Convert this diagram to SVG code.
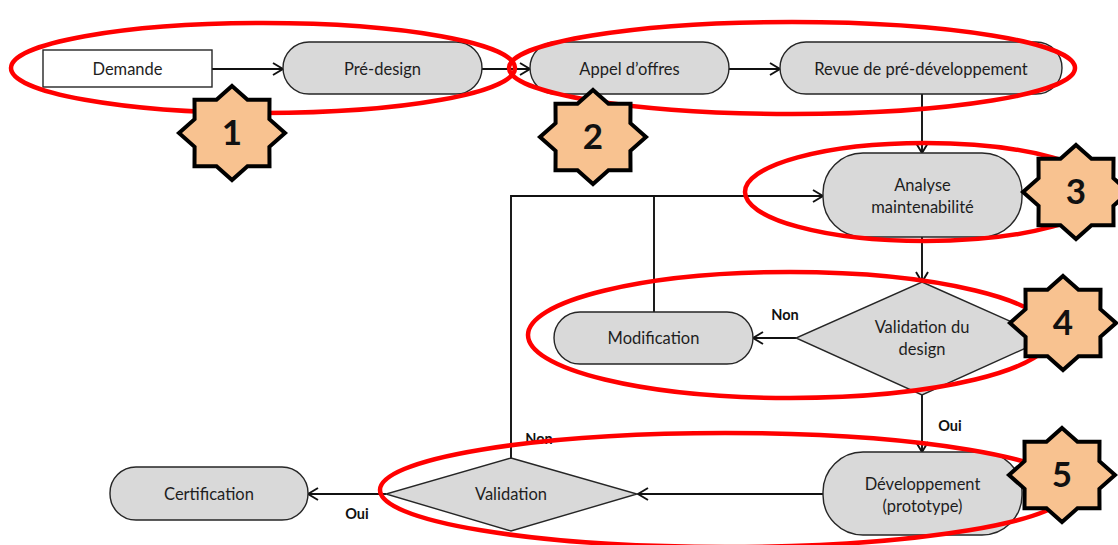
<svg xmlns="http://www.w3.org/2000/svg" width="1118" height="545" viewBox="0 0 1118 545">
<style>
.box{fill:#D9D9D9;stroke:#262626;stroke-width:1.4}
.rect{fill:#FFFFFF;stroke:#262626;stroke-width:1.4}
.t{font-family:Lato,"Liberation Sans",sans-serif;font-size:16.5px;fill:#1E1E1E;text-anchor:middle}
.lbl{font-family:Lato,"Liberation Sans",sans-serif;font-size:14.5px;font-weight:bold;fill:#111;text-anchor:middle}
.conn{fill:none;stroke:#111;stroke-width:1.9}
.hl{fill:none;stroke:#FF0000;stroke-width:4.5}
.star{fill:#F8C290;stroke:#000;stroke-width:4;stroke-linejoin:miter}
.num{font-family:Lato,"Liberation Sans",sans-serif;font-size:35px;font-weight:bold;fill:#111;text-anchor:middle}
</style>
<defs>
<marker id="arr" viewBox="0 0 12 14" refX="11" refY="7" markerWidth="12" markerHeight="14" markerUnits="userSpaceOnUse" orient="auto">
<path d="M1,1 L11,7 L1,13" fill="none" stroke="#111" stroke-width="1.9"/>
</marker>
<polygon id="starShape" class="star" points="0,-47 15.5,-33.3 37.5,-33.2 37.4,-13.8 53,0 37.4,13.8 37.5,33.2 15.5,33.3 0,47 -15.5,33.3 -37.5,33.2 -37.4,13.8 -53,0 -37.4,-13.8 -37.5,-33.2 -15.5,-33.3"/>
</defs>

<g id="connectors">
<path class="conn" d="M212,69 L283,69" marker-end="url(#arr)"/>
<path class="conn" d="M482,69 L530,69" marker-end="url(#arr)"/>
<path class="conn" d="M729,69 L780,69" marker-end="url(#arr)"/>
<path class="conn" d="M922,94 L922,153" marker-end="url(#arr)"/>
<path class="conn" d="M922,237 L922,282" marker-end="url(#arr)"/>
<path class="conn" d="M796,338 L753,338" marker-end="url(#arr)"/>
<path class="conn" d="M654,312 L654,196"/>
<path class="conn" d="M511,458 L511,196 L823,196" marker-end="url(#arr)"/>
<path class="conn" d="M922,395 L922,452" marker-end="url(#arr)"/>
<path class="conn" d="M823,494 L638,494" marker-end="url(#arr)"/>
<path class="conn" d="M386,494 L308,494" marker-end="url(#arr)"/>
<text class="lbl" x="785" y="320">Non</text>
<text class="lbl" x="950" y="431">Oui</text>
<text class="lbl" x="357" y="519">Oui</text>
<text class="lbl" x="539" y="444">Non</text>
</g>

<g id="demande">
<rect class="rect" x="43" y="50" width="169" height="37"/>
<text class="t" x="127.5" y="74.5">Demande</text>
</g>
<g id="pre-design">
<rect class="box" x="283" y="42" width="199" height="52" rx="26"/>
<text class="t" x="382.5" y="74.5">Pré-design</text>
</g>
<g id="appel-offres">
<rect class="box" x="530" y="42" width="199" height="52" rx="26"/>
<text class="t" x="629.5" y="74.5">Appel d’offres</text>
</g>
<g id="revue">
<rect class="box" x="780" y="42" width="282" height="52" rx="26"/>
<text class="t" x="921" y="74.5">Revue de pré-développement</text>
</g>
<g id="analyse">
<rect class="box" x="823" y="153" width="199" height="84" rx="40"/>
<text class="t" x="922.5" y="191">Analyse</text>
<text class="t" x="922.5" y="213">maintenabilité</text>
</g>
<g id="validation-design">
<polygon class="box" points="922,282 1048,338 922,395 796,338"/>
<text class="t" x="922" y="333">Validation du</text>
<text class="t" x="922" y="355">design</text>
</g>
<g id="modification">
<rect class="box" x="554" y="312" width="199" height="52" rx="26"/>
<text class="t" x="653.5" y="343.5">Modification</text>
</g>
<g id="developpement">
<rect class="box" x="823" y="452" width="199" height="83" rx="40"/>
<text class="t" x="922.5" y="490">Développement</text>
<text class="t" x="922.5" y="512">(prototype)</text>
</g>
<g id="validation">
<polygon class="box" points="511,458 637,494 511,531 386,494"/>
<text class="t" x="511" y="499.5">Validation</text>
</g>
<g id="certification">
<rect class="box" x="110" y="467" width="198" height="53" rx="26"/>
<text class="t" x="209" y="499.5">Certification</text>
</g>

<g id="highlights">
<ellipse class="hl" cx="263" cy="68" rx="252" ry="45"/>
<ellipse class="hl" cx="792" cy="68" rx="283" ry="46"/>
<ellipse class="hl" cx="925" cy="192" rx="180" ry="49"/>
<ellipse class="hl" cx="790" cy="335" rx="262" ry="63"/>
<ellipse class="hl" cx="725" cy="490" rx="345" ry="57"/>
</g>

<g id="star1"><use href="#starShape" x="232" y="133"/><text class="num" x="232" y="145">1</text></g>
<g id="star2"><use href="#starShape" x="593" y="137"/><text class="num" x="593" y="149">2</text></g>
<g id="star3"><use href="#starShape" x="1076" y="192"/><text class="num" x="1076" y="204">3</text></g>
<g id="star4"><use href="#starShape" x="1063" y="323"/><text class="num" x="1063" y="335">4</text></g>
<g id="star5"><use href="#starShape" x="1062" y="475"/><text class="num" x="1062" y="487">5</text></g>
</svg>
